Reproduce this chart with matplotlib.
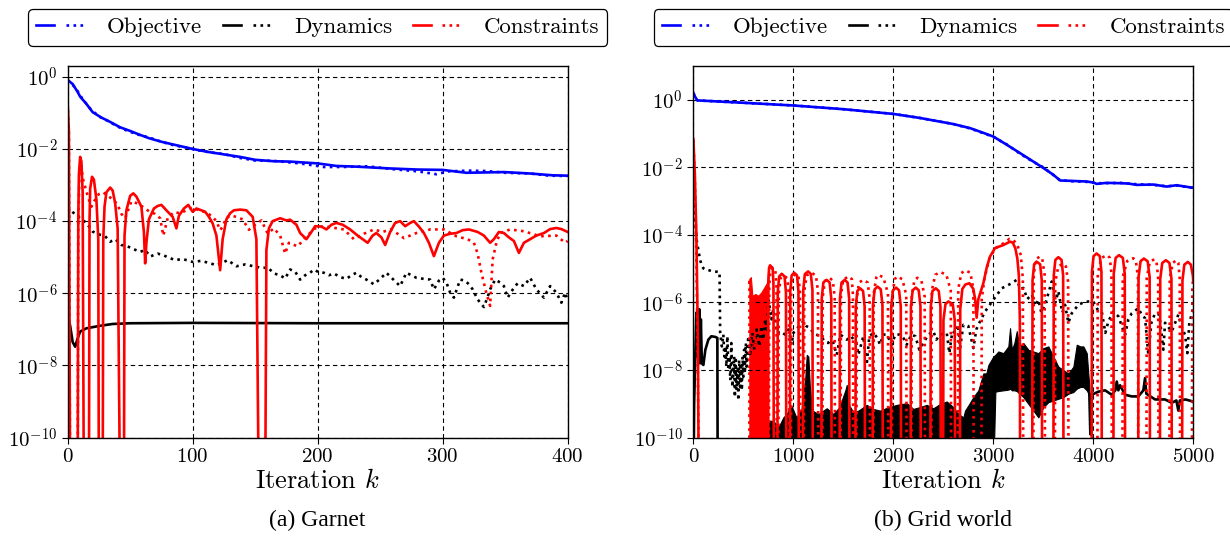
import numpy as np
import matplotlib
matplotlib.use("Agg")
import matplotlib.pyplot as plt
from matplotlib.lines import Line2D
from matplotlib.legend_handler import HandlerTuple
from matplotlib.ticker import FuncFormatter, NullLocator

plt.rcParams['font.family'] = 'serif'
plt.rcParams['font.serif'] = ['cmr10', 'DejaVu Serif']
plt.rcParams['mathtext.fontset'] = 'cm'
plt.rcParams['axes.formatter.use_mathtext'] = True

# ---------------- data (k, log10 value) ----------------
# (a) Garnet
garnet_obj = [(0, -0.09), (4, -0.2), (8, -0.42), (10, -0.55), (15, -0.75), (20, -0.98), (27, -1.13),
              (34, -1.25), (42, -1.4), (50, -1.5), (55, -1.57), (65, -1.7), (75, -1.8), (85, -1.88),
              (100, -2.0), (112, -2.08), (125, -2.15), (138, -2.22), (150, -2.3), (165, -2.34), (178, -2.35),
              (200, -2.4), (215, -2.47), (231, -2.49), (258, -2.54), (280, -2.57), (300, -2.58), (319, -2.66),
              (335, -2.65), (349, -2.64), (370, -2.68), (388, -2.73), (400, -2.74)]
garnet_obj_dot = [(0, -0.09), (4, -0.22), (8, -0.4), (12, -0.62), (18, -0.88), (25, -1.1), (32, -1.22),
                  (40, -1.38), (48, -1.5), (56, -1.6), (65, -1.68), (75, -1.8), (85, -1.9), (95, -1.96),
                  (105, -2.04), (115, -2.1), (125, -2.14), (138, -2.25), (150, -2.32), (165, -2.33),
                  (180, -2.38), (190, -2.42), (205, -2.5), (220, -2.5), (240, -2.48), (260, -2.56),
                  (280, -2.62), (295, -2.7), (305, -2.62), (320, -2.6), (335, -2.61), (350, -2.66),
                  (370, -2.68), (385, -2.74), (400, -2.75)]
garnet_dyn = [(0, -6.6), (2, -6.9), (4, -7.35), (6, -7.48), (8, -7.25), (10, -7.06), (15, -6.97),
              (26, -6.9), (36, -6.85), (50, -6.83), (100, -6.82), (200, -6.83), (300, -6.83), (400, -6.83)]
garnet_dyn_dot = [(0, -3.6), (4, -3.75), (10, -3.92), (15, -4.05), (20, -4.29), (26, -4.38), (30, -4.42),
                  (34, -4.57), (38, -4.5), (43, -4.66), (48, -4.7), (53, -4.78), (58, -4.85), (62, -4.8),
                  (66, -4.98), (72, -4.9), (77, -4.95), (80, -5.0), (86, -5.08), (92, -5.05), (100, -5.13),
                  (107, -5.1), (112, -5.15), (119, -5.22), (124, -5.15), (128, -5.08), (135, -5.25),
                  (142, -5.2), (150, -5.26), (156, -5.3), (160, -5.28), (165, -5.45), (170, -5.5),
                  (174, -5.59), (178, -5.34), (182, -5.4), (186, -5.62), (190, -5.5), (194, -5.43),
                  (197, -5.34), (201, -5.42), (205, -5.43), (209, -5.5), (213, -5.45), (218, -5.55),
                  (223, -5.6), (227, -5.5), (231, -5.43), (235, -5.55), (239, -5.62), (245, -5.75),
                  (250, -5.6), (255, -5.43), (260, -5.6), (266, -5.8), (271, -5.43), (275, -5.5),
                  (279, -5.57), (285, -5.6), (290, -5.62), (293, -5.89), (297, -5.65), (300, -5.57),
                  (303, -5.7), (306, -5.98), (309, -6.12), (314, -5.62), (318, -5.65), (321, -5.75),
                  (324, -5.89), (328, -6.17), (331, -6.3), (333, -6.38), (336, -6.1), (338, -5.89),
                  (342, -5.62), (346, -5.7), (349, -5.8), (352, -6.12), (356, -5.9), (360, -5.72),
                  (365, -5.8), (370, -5.57), (375, -5.89), (381, -6.12), (386, -5.8), (391, -5.98),
                  (395, -6.26), (398, -5.98), (400, -6.2)]
garnet_con = [(0, -0.74), (1, -1.5), (2, -12), (8, -12), (8.5, -4), (9, -2.7), (10, -2.22), (11, -2.35),
              (12, -3.2), (13, -12), (17, -12), (17.5, -4), (18, -3.1), (19.5, -2.77), (21, -2.85),
              (23, -3.4), (24.5, -4.5), (25, -12), (28, -12), (28.5, -4.5), (29.5, -3.6), (31, -3.2),
              (34, -3.07), (36, -3.15), (38, -3.5), (40, -4.2), (42, -12), (45, -12), (45.5, -4.4),
              (47, -3.7), (50, -3.3), (52.5, -3.23), (55, -3.32), (59, -3.6), (61, -4.3), (62, -5.17),
              (63, -4.6), (65, -3.95), (69, -3.65), (72, -3.58), (75, -3.55), (79, -3.7), (84, -3.88),
              (87, -4.2), (89, -3.85), (93, -3.65), (96.5, -3.55), (100, -3.74), (103, -3.65), (107, -3.7),
              (110, -3.74), (113, -3.88), (116, -4.06), (119, -4.4), (122, -5.36), (124, -4.5),
              (127, -3.95), (130, -3.78), (133, -3.7), (138, -3.68), (143, -3.7), (148, -3.88),
              (151, -4.5), (153, -12), (158, -12), (159, -4.8), (161, -4.2), (164, -4.0), (170, -3.92),
              (175, -3.98), (178, -3.96), (183, -4.1), (186, -4.33), (191, -4.5), (195, -4.3),
              (198, -4.14), (203, -4.15), (207, -4.23), (211, -4.1), (215, -4.05), (220, -4.1),
              (226, -4.23), (232, -4.4), (236, -4.5), (240, -4.6), (244, -4.4), (247, -4.33),
              (251, -4.45), (254, -4.66), (258, -4.3), (262, -4.05), (266, -4.0), (270, -4.14),
              (274, -4.05), (277, -4.0), (281, -4.15), (285, -4.33), (289, -4.6), (293, -4.97),
              (297, -4.6), (301, -4.4), (306, -4.35), (311, -4.33), (316, -4.25), (321, -4.23),
              (328, -4.3), (333, -4.4), (338, -4.6), (341, -4.5), (345, -4.3), (349, -4.33),
              (353, -4.45), (357, -4.55), (361, -4.88), (365, -4.6), (370, -4.5), (375, -4.4),
              (381, -4.33), (386, -4.22), (391, -4.19), (395, -4.22), (400, -4.3)]
garnet_con_dot = [(0, -0.74), (1, -1.6), (2, -12), (8, -12), (8.5, -4), (9.5, -2.6), (10.5, -2.3),
                  (12, -2.8), (14, -3.05), (16, -3.3), (19, -3.6), (22, -3.4), (25, -3.25), (28.5, -3.2),
                  (32, -3.3), (36.5, -3.4), (40, -3.55), (43, -3.8), (46, -3.92), (51, -3.45), (55, -3.5),
                  (60, -3.6), (66, -3.75), (70, -3.8), (74, -3.92), (76.5, -4.4), (78, -4.2), (80, -3.92),
                  (85, -3.75), (90, -3.78), (95, -3.7), (100, -3.62), (105, -3.7), (110, -3.75),
                  (115, -3.85), (119, -4.0), (122, -4.25), (124, -4.15), (127, -3.9), (132, -3.85),
                  (140, -3.95), (145, -4.24), (150, -4.1), (155, -3.98), (160, -4.34), (165, -4.2),
                  (170, -4.4), (174, -4.9), (177, -4.6), (184, -4.7), (191, -4.42), (198, -4.2),
                  (205, -4.14), (212, -4.18), (221, -4.23), (229, -4.5), (237, -4.35), (245, -4.23),
                  (252, -4.3), (258, -4.23), (264, -4.35), (269, -4.47), (274, -4.4), (279, -4.33),
                  (285, -4.28), (290, -4.23), (301, -4.23), (311, -4.42), (320, -4.5), (325, -4.6),
                  (328, -4.9), (331, -5.43), (335, -6.0), (338, -6.35), (339, -5.7), (340, -5.06),
                  (343, -4.6), (346, -4.33), (354, -4.23), (365, -4.28), (378, -4.42), (391, -4.4),
                  (398, -4.6), (400, -4.55)]

# (b) Grid world
grid_obj = [(0, 0.2), (15, 0.1), (40, -0.02), (500, -0.09), (1000, -0.17), (1500, -0.28), (2000, -0.42),
            (2267, -0.54), (2600, -0.72), (2767, -0.84), (2900, -0.98), (3000, -1.09), (3133, -1.33),
            (3267, -1.58), (3400, -1.83), (3500, -2.02), (3600, -2.22), (3667, -2.39), (3767, -2.4),
            (3933, -2.42), (4000, -2.45), (4033, -2.49), (4133, -2.46), (4267, -2.47), (4350, -2.48),
            (4433, -2.52), (4600, -2.51), (4733, -2.57), (4833, -2.53), (4983, -2.6), (5000, -2.6)]
grid_obj_dot = [(0, 0.2), (15, 0.1), (40, -0.02), (500, -0.09), (1000, -0.17), (1500, -0.28),
                (2000, -0.42), (2267, -0.54), (2600, -0.72), (2767, -0.85), (2900, -0.99), (3000, -1.1),
                (3133, -1.32), (3267, -1.6), (3400, -1.84), (3500, -2.0), (3600, -2.23), (3667, -2.38),
                (3767, -2.41), (3933, -2.43), (4033, -2.47), (4133, -2.47), (4267, -2.46), (4433, -2.5),
                (4600, -2.52), (4733, -2.56), (4833, -2.54), (5000, -2.61)]
grid_dyn = [(0, -12), (8, -9), (20, -7.5), (30, -6.3), (35, -7.6), (45, -6.2), (50, -7.7), (60, -6.2),
            (67, -7.8), (75, -6.5), (85, -7.8), (100, -7.85), (120, -7.4), (150, -7.1), (180, -7.0),
            (220, -7.02), (240, -7.05), (244, -12)]
grid_dyn_tail = [(3960, -8.7), (3970, -9.9), (3983, -8.73), (4050, -8.64), (4117, -8.6), (4184, -8.73),
                 (4220, -8.6), (4234, -8.34), (4250, -8.6), (4267, -8.45), (4317, -8.73), (4384, -8.78),
                 (4450, -8.78), (4500, -8.6), (4517, -8.24), (4530, -8.7), (4617, -8.87), (4717, -8.87),
                 (4784, -8.97), (4830, -8.9), (4850, -9.2), (4865, -8.9), (4920, -8.87), (4984, -8.92),
                 (5000, -8.95)]
# noisy band of the solid dynamics curve: k, upper edge (lower edge below the axis)
grid_dyn_band1 = [(750, -9.5), (800, -9.5), (850, -9.7), (900, -9.4), (933, -9.3), (980, -9.05),
                  (1030, -9.4), (1080, -9.2), (1120, -8.2), (1134, -7.55), (1150, -7.6), (1165, -8.5),
                  (1190, -9.2), (1250, -9.3), (1334, -9.13), (1400, -9.3), (1460, -9.1), (1520, -8.6),
                  (1534, -8.44), (1550, -9.0), (1600, -9.25), (1650, -9.2), (1734, -9.03), (1800, -9.15),
                  (1867, -9.2), (1950, -9.1), (2034, -9.03), (2134, -8.98), (2200, -9.15), (2260, -9.1),
                  (2334, -9.03), (2400, -9.13), (2470, -9.0), (2534, -8.93), (2600, -9.1), (2650, -9.3),
                  (2700, -9.4), (2717, -9.2), (2760, -9.0), (2800, -8.8), (2850, -8.6), (2900, -8.1),
                  (2930, -8.1)]
grid_dyn_band2_k = [2930, 2950, 3000, 3020, 3050, 3100, 3150, 3167, 3185, 3210, 3234, 3260, 3300, 3350,
                    3400, 3450, 3500, 3550, 3600, 3650, 3700, 3750, 3800, 3834, 3870, 3900, 3934, 3960]
grid_dyn_band2_hi = [-8.1, -7.85, -7.6, -7.55, -7.45, -7.5, -7.3, -6.76, -7.4, -7.2, -6.85, -7.3, -7.2,
                     -7.4, -7.45, -7.5, -7.35, -7.3, -7.6, -7.9, -8.0, -8.1, -7.9, -7.25, -7.3, -7.3,
                     -7.5, -8.5]
grid_dyn_band2_lo = [-12, -12, -11, -8.64, -8.62, -8.6, -8.58, -8.55, -8.6, -8.6, -8.62, -8.7, -8.8,
                     -9.0, -9.2, -9.4, -9.1, -8.95, -8.9, -8.85, -8.8, -8.7, -8.65, -8.55, -8.5, -8.5,
                     -8.6, -8.75]
grid_dyn_dot = [(0, -2.7), (10, -3.2), (20, -3.6), (33, -4.15), (50, -4.45), (67, -4.74), (85, -4.9),
                (100, -4.99), (120, -5.03), (150, -5.04), (200, -5.09), (240, -5.09), (262, -5.1),
                (268, -6.9), (285, -7.3), (300, -6.95), (310, -7.6), (320, -7.3), (330, -7.9), (340, -7.0),
                (350, -8.0), (360, -7.6), (370, -8.3), (380, -7.2), (390, -8.5), (400, -8.1), (408, -7.6),
                (415, -8.8), (425, -7.7), (433, -8.6), (442, -8.0), (450, -8.9), (458, -7.7), (467, -8.5),
                (475, -7.8), (485, -8.6), (492, -7.6), (500, -8.2), (508, -7.4), (515, -8.1), (525, -7.2),
                (533, -7.9), (542, -7.3), (550, -7.0), (567, -7.6), (590, -6.9), (610, -7.4), (633, -6.8),
                (660, -7.3), (680, -6.7), (700, -7.1), (720, -6.5), (735, -6.8), (750, -5.93), (767, -6.2),
                (780, -6.5), (800, -6.2), (833, -6.9), (870, -6.85), (917, -6.95), (950, -6.8),
                (983, -7.25), (1000, -6.9), (1030, -6.8), (1067, -6.66), (1100, -6.56), (1130, -6.7),
                (1167, -6.76), (1200, -6.9), (1233, -6.95), (1270, -7.0), (1317, -7.15), (1350, -7.2),
                (1380, -7.0), (1434, -7.55), (1470, -6.95), (1534, -7.1), (1580, -7.0), (1634, -7.25),
                (1650, -7.55), (1700, -7.0), (1733, -7.85), (1760, -7.0), (1800, -6.9), (1840, -7.05),
                (1867, -7.25), (1900, -6.95), (1934, -6.95), (1984, -7.25), (2020, -6.95), (2067, -6.95),
                (2100, -7.05), (2134, -7.25), (2180, -6.95), (2220, -7.0), (2260, -7.4), (2300, -7.2),
                (2350, -6.95), (2400, -6.85), (2430, -7.1), (2470, -6.95), (2534, -6.9), (2560, -7.5),
                (2590, -6.86), (2620, -6.9), (2650, -6.66), (2667, -7.35), (2700, -6.66), (2750, -6.7),
                (2800, -7.35), (2830, -6.8), (2850, -6.66), (2917, -6.27), (3000, -5.92), (3084, -5.58),
                (3184, -5.43), (3234, -5.33), (3270, -5.6), (3300, -5.57), (3340, -5.9), (3384, -5.76),
                (3420, -6.1), (3450, -5.92), (3480, -6.3), (3517, -6.07), (3584, -5.38), (3620, -6.0),
                (3650, -5.67), (3690, -6.3), (3717, -6.07), (3750, -6.6), (3784, -6.32), (3850, -6.07),
                (3900, -6.0), (3950, -5.97), (4000, -5.97), (4040, -6.2), (4084, -6.27), (4120, -6.9),
                (4150, -6.56), (4200, -6.27), (4250, -6.41), (4317, -6.96), (4350, -6.5), (4384, -6.32),
                (4450, -6.17), (4490, -6.4), (4517, -6.46), (4550, -7.55), (4580, -6.6), (4617, -6.32),
                (4660, -6.36), (4700, -7.4), (4717, -6.6), (4784, -6.86), (4850, -6.36), (4880, -6.7),
                (4917, -6.96), (4940, -7.5), (4960, -6.6), (5000, -6.17)]
# noisy band of the solid constraint curve (k, upper edge)
grid_con_band = [(560, -5.3), (575, -5.25), (590, -5.8), (620, -5.75), (650, -5.8), (680, -5.7),
                 (700, -5.6), (720, -5.5), (740, -5.4), (750, -4.95)]
grid_con = [(0, -1.16), (15, -2.2), (30, -4.0), (45, -7), (55, -12),
            (745, -12), (749, -5.45), (757, -4.98), (767, -4.9), (793, -4.98), (801, -5.45), (805, -12),
            (840, -12), (844, -5.7), (858, -5.23), (884, -5.15), (912, -5.23), (926, -5.7), (930, -12),
            (965, -12), (969, -5.67), (983, -5.2), (1008, -5.12), (1037, -5.2), (1051, -5.67), (1055, -12),
            (1095, -12), (1099, -5.63), (1115, -5.16), (1148, -5.08), (1175, -5.16), (1191, -5.63), (1195, -12),
            (1280, -12), (1284, -5.88), (1300, -5.41), (1332, -5.33), (1363, -5.41), (1379, -5.88), (1383, -12),
            (1462, -12), (1466, -5.88), (1482, -5.41), (1514, -5.33), (1542, -5.41), (1558, -5.88), (1562, -12),
            (1620, -12), (1624, -6.13), (1640, -5.66), (1667, -5.58), (1697, -5.66), (1713, -6.13), (1717, -12),
            (1792, -12), (1796, -6.08), (1813, -5.61), (1842, -5.53), (1874, -5.61), (1891, -6.08), (1895, -12),
            (1975, -12), (1979, -6.11), (1996, -5.64), (2027, -5.56), (2057, -5.64), (2074, -6.11), (2078, -12),
            (2172, -12), (2176, -6.11), (2193, -5.64), (2224, -5.56), (2254, -5.64), (2271, -6.11), (2275, -12),
            (2370, -12), (2374, -6.13), (2391, -5.66), (2424, -5.58), (2454, -5.66), (2471, -6.13), (2475, -12),
            (2497, -12), (2501, -6.52), (2521, -6.05), (2550, -5.97), (2594, -6.05), (2614, -6.52), (2618, -12),
            (2665, -12), (2669, -6.2), (2690, -5.6), (2720, -5.47), (2760, -5.43), (2800, -5.6),
            (2820, -5.95), (2833, -6.45), (2850, -5.9), (2900, -5.43), (2935, -4.95), (2967, -4.64),
            (3017, -4.39), (3100, -4.3), (3167, -4.2), (3195, -4.23), (3220, -4.4), (3240, -4.7),
            (3255, -5.2), (3265, -6.5), (3268, -12),
            (3388, -12), (3392, -5.34), (3408, -4.87), (3432, -4.79), (3468, -4.87), (3484, -5.34), (3488, -12),
            (3600, -12), (3604, -5.21), (3620, -4.74), (3650, -4.66), (3682, -4.74), (3698, -5.21), (3702, -12),
            (3982, -12), (3986, -5.1), (4002, -4.63), (4032, -4.55), (4065, -4.63), (4081, -5.1), (4085, -12),
            (4200, -12), (4204, -5.15), (4223, -4.68), (4257, -4.6), (4295, -4.68), (4314, -5.15), (4318, -12),
            (4448, -12), (4452, -5.25), (4472, -4.78), (4505, -4.7), (4543, -4.78), (4563, -5.25), (4567, -12),
            (4665, -12), (4669, -5.3), (4689, -4.83), (4725, -4.75), (4761, -4.83), (4781, -5.3), (4785, -12),
            (4887, -12), (4891, -5.35), (4910, -4.88), (4945, -4.8), (4975, -4.88), (4995, -5.2), (5000, -5.4)]
grid_con_dot = [(0, -1.2), (15, -2.4), (30, -4.5), (45, -8), (58, -12),
                (560, -12), (561, -5.3),
                (755, -12), (759, -5.52), (770, -5.05), (787, -4.97), (820, -5.05), (831, -5.52), (835, -12),
                (850, -12), (854, -5.75), (872, -5.28), (904, -5.2), (938, -5.28), (956, -5.75), (960, -12),
                (975, -12), (979, -5.7), (993, -5.23), (1028, -5.15), (1052, -5.23), (1066, -5.7), (1070, -12),
                (1105, -12), (1109, -5.67), (1134, -5.2), (1180, -5.12), (1226, -5.2), (1246, -5.67), (1250, -12),
                (1290, -12), (1294, -5.83), (1316, -5.36), (1367, -5.28), (1395, -5.36), (1413, -5.83), (1417, -12),
                (1472, -12), (1476, -5.78), (1500, -5.31), (1560, -5.23), (1585, -5.31), (1596, -5.78), (1600, -12),
                (1630, -12), (1634, -5.88), (1657, -5.41), (1700, -5.33), (1743, -5.41), (1763, -5.88), (1767, -12),
                (1800, -12), (1804, -5.73), (1830, -5.26), (1850, -5.18), (1900, -5.26), (1946, -5.73), (1950, -12),
                (1985, -12), (1989, -5.78), (2015, -5.31), (2035, -5.23), (2090, -5.31), (2129, -5.78), (2133, -12),
                (2180, -12), (2184, -5.82), (2210, -5.35), (2240, -5.27), (2280, -5.35), (2313, -5.82), (2317, -12),
                (2380, -12), (2384, -5.65), (2420, -5.18), (2470, -5.1), (2530, -5.18), (2574, -5.65), (2578, -12),
                (2645, -12), (2649, -5.6), (2680, -5.13), (2720, -5.05), (2770, -5.12), (2800, -5.6), (2804, -12),
                (2880, -12), (2884, -5.9), (2910, -5.3), (2960, -4.7), (3020, -4.4), (3100, -4.25),
                (3160, -4.12), (3200, -4.15), (3240, -4.3), (3275, -4.6), (3295, -5.3), (3300, -12),
                (3400, -12), (3404, -5.19), (3425, -4.72), (3465, -4.64), (3490, -4.72), (3513, -5.19), (3517, -12),
                (3615, -12), (3619, -5.4), (3650, -4.93), (3700, -4.85), (3725, -4.93), (3748, -5.4), (3752, -12),
                (4040, -12), (4044, -5.15), (4080, -4.68), (4140, -4.6), (4165, -4.68), (4181, -5.15), (4185, -12),
                (4290, -12), (4294, -5.24), (4340, -4.77), (4400, -4.69), (4425, -4.77), (4446, -5.24), (4450, -12),
                (4530, -12), (4534, -5.27), (4565, -4.8), (4610, -4.72), (4632, -4.8), (4648, -5.27), (4652, -12),
                (4760, -12), (4764, -5.3), (4795, -4.83), (4830, -4.75), (4850, -4.83), (4864, -5.3), (4868, -12),
                (4985, -12), (4990, -5.6), (5000, -5.2)]

BLUE, BLACK, RED = '#0000ff', 'black', '#ff0000'
LW = 1.9


def xy(pairs):
    k, e = np.array(pairs, dtype=float).T
    return k, 10.0 ** e


def style_axes(ax, xmax, xticks, ytop):
    ax.set_yscale('log')
    ax.set_xlim(0, xmax)
    ax.set_ylim(1e-10, ytop)
    ax.set_xticks(xticks)
    ax.set_yticks([1e-10, 1e-8, 1e-6, 1e-4, 1e-2, 1e0])
    ax.yaxis.set_minor_locator(NullLocator())
    ax.yaxis.set_major_formatter(FuncFormatter(lambda v, _: r'$10^{%d}$' % round(np.log10(v))))
    ax.grid(True, color='black', ls=(0, (4, 3)), lw=0.8)
    ax.tick_params(labelsize=15, length=4, width=0.8)
    for s in ax.spines.values():
        s.set_linewidth(1.0)
    ax.set_xlabel(r'Iteration $k$', fontsize=19, labelpad=2)


def add_legend(ax):
    handles = [(Line2D([], [], color=c, lw=LW), Line2D([], [], color=c, lw=LW, ls=':'))
               for c in (BLUE, BLACK, RED)]
    leg = ax.legend(handles, ['Objective', 'Dynamics', 'Constraints'],
                    handler_map={tuple: HandlerTuple(ndivide=None, pad=0.5)},
                    loc='lower center', bbox_to_anchor=(0.5, 1.055), ncol=3, fontsize=16.5,
                    handlelength=2.1, handletextpad=1.0, columnspacing=0.9, borderaxespad=0,
                    borderpad=0.35, frameon=True, fancybox=True, edgecolor='black', framealpha=1)
    leg.get_frame().set_linewidth(0.9)


fig = plt.figure(figsize=(12.3, 5.45), dpi=100)
ax1 = fig.add_axes([0.055, 0.197, 0.4065, 0.682])
ax2 = fig.add_axes([0.5637, 0.197, 0.4065, 0.682])

# (a) Garnet
ax1.plot(*xy(garnet_dyn), color=BLACK, lw=LW)
ax1.plot(*xy(garnet_dyn_dot), color=BLACK, lw=LW, ls=':')
ax1.plot(*xy(garnet_con_dot), color=RED, lw=LW, ls=':')
ax1.plot(*xy(garnet_con), color=RED, lw=LW)
ax1.plot(*xy(garnet_obj_dot), color=BLUE, lw=LW, ls=':')
ax1.plot(*xy(garnet_obj), color=BLUE, lw=LW)
style_axes(ax1, 400, [0, 100, 200, 300, 400], 2.0)
add_legend(ax1)

# (b) Grid world
bk, bhi = xy(grid_dyn_band1)
ax2.fill_between(bk, 1e-12, bhi, color=BLACK, lw=0.8)
ax2.fill_between(grid_dyn_band2_k, 10.0 ** np.array(grid_dyn_band2_lo),
                 10.0 ** np.array(grid_dyn_band2_hi), color=BLACK, lw=0.8)
ax2.plot(*xy(grid_dyn), color=BLACK, lw=LW)
ax2.plot(*xy(grid_dyn_tail), color=BLACK, lw=LW)
ax2.plot(*xy(grid_dyn_dot), color=BLACK, lw=LW, ls=':')
ck, chi = xy(grid_con_band)
ax2.fill_between(ck, 1e-12, chi, color=RED, lw=0.8)
ax2.plot(*xy(grid_con_dot), color=RED, lw=LW, ls=':')
ax2.plot(*xy(grid_con), color=RED, lw=LW)
ax2.plot(*xy(grid_obj_dot), color=BLUE, lw=LW, ls=':')
ax2.plot(*xy(grid_obj), color=BLUE, lw=LW)
style_axes(ax2, 5000, [0, 1000, 2000, 3000, 4000, 5000], 10.0)
add_legend(ax2)

fig.text(0.258, 0.045, '(a) Garnet', ha='center', va='center', fontsize=17, family='Liberation Serif')
fig.text(0.767, 0.045, '(b) Grid world', ha='center', va='center', fontsize=17, family='Liberation Serif')

fig.savefig('out.png', dpi=100)
